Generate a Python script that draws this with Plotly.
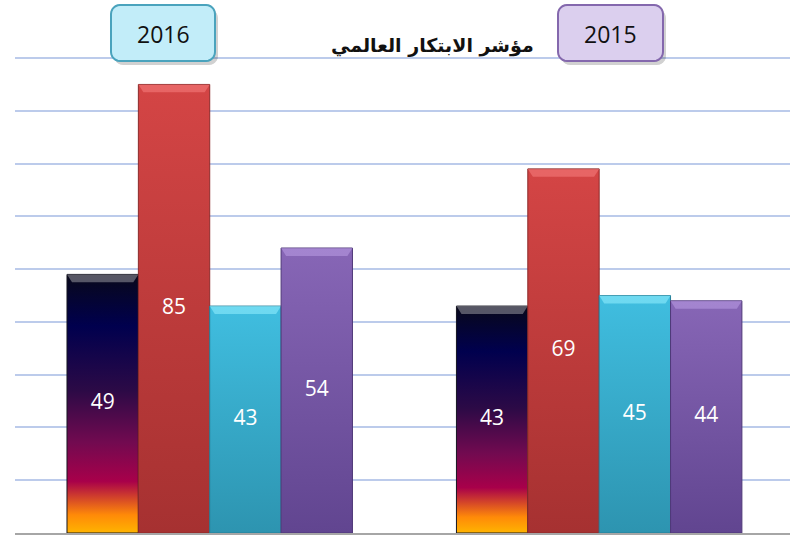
import math
import plotly.graph_objects as go

# ---- data ----
years = ["2016", "2015"]
values_black = [49, 43]
values_red = [85, 69]
values_cyan = [43, 45]
values_purple = [54, 44]
y_ticks = [0, 10, 20, 30, 40, 50, 60, 70, 80, 90]
title_text = "مؤشر الابتكار العالمي"

series = [
    (values_black, [[0, "#ffb400"], [0.07, "#ff8a08"], [0.2, "#a8004a"], [0.35, "#720a50"],
                    [0.55, "#2c0a46"], [0.8, "#00004e"], [1, "#08081a"]], "#151520", "rgba(140,140,150,0.6)"),
    (values_red, [[0, "#a63131"], [1, "#d44545"]], "#8c2a2a", "rgba(255,140,140,0.45)"),
    (values_cyan, [[0, "#2d94b0"], [1, "#40bee0"]], "#267f98", "rgba(150,240,255,0.55)"),
    (values_purple, [[0, "#614590"], [1, "#8766b6"]], "#4f3878", "rgba(200,170,240,0.45)"),
]

group_width = 0.733
bar_w = group_width / len(series)
bevel_h = 1.5
bevel_dx = 0.013

fig = go.Figure()
label_x, label_y, label_t = [], [], []
for i, (vals, cscale, edge, bevel_col) in enumerate(series):
    for g, v in enumerate(vals):
        left = g - group_width / 2 + i * bar_w
        right = left + bar_w
        fig.add_trace(go.Scatter(
            x=[left, left, right, right, left], y=[0, v, v, 0, 0],
            mode="lines", fill="toself",
            line=dict(color=edge, width=1),
            fillgradient=dict(type="vertical", colorscale=cscale, start=0, stop=v),
            hoverinfo="skip", showlegend=False))
        fig.add_trace(go.Scatter(
            x=[left, right, right - bevel_dx, left + bevel_dx, left],
            y=[v, v, v - bevel_h, v - bevel_h, v],
            mode="lines", fill="toself", fillcolor=bevel_col,
            line=dict(width=0), hoverinfo="skip", showlegend=False))
        label_x.append((left + right) / 2)
        label_y.append(v / 2)
        label_t.append(str(v))

fig.add_trace(go.Scatter(
    x=label_x, y=label_y, text=label_t, mode="text",
    textfont=dict(color="white", size=21, family="Open Sans, Lato, sans-serif"),
    hoverinfo="skip", showlegend=False))

# ---- year boxes (rounded) ----
W, H = 790, 535
ml, mr, mt, mb = 15, 0, 57, 2
pw, ph = W - ml - mr, H - mt - mb

def px2paper(x, y):
    return (x - ml) / pw, (H - mb - y) / ph

def rounded(x0, y0, x1, y1, r):
    pts = []
    corners = [(x1 - r, y0 + r, -90, 0), (x1 - r, y1 - r, 0, 90),
               (x0 + r, y1 - r, 90, 180), (x0 + r, y0 + r, 180, 270)]
    for cx, cy, a0, a1 in corners:
        for k in range(7):
            a = math.radians(a0 + (a1 - a0) * k / 6)
            pts.append(px2paper(cx + r * math.cos(a), cy + r * math.sin(a)))
    return "M " + " L ".join(f"{px:.5f},{py:.5f}" for px, py in pts) + " Z"

boxes = [
    (years[0], 111, 5, 215, 61, "#c2edf9", "#4aa3bd"),
    (years[1], 558, 5, 663, 61, "#dbcfee", "#8468ad"),
]
shapes = []
annotations = []
for label, x0, y0, x1, y1, fill, border in boxes:
    shapes.append(dict(type="path", xref="paper", yref="paper",
                       path=rounded(x0 + 3, y0 + 4, x1 + 3, y1 + 4, 9),
                       fillcolor="rgba(0,0,0,0.18)", line=dict(width=0), layer="above"))
    shapes.append(dict(type="path", xref="paper", yref="paper",
                       path=rounded(x0, y0, x1, y1, 9),
                       fillcolor=fill, line=dict(color=border, width=2), layer="above"))
    cx, cy = px2paper((x0 + x1) / 2, (y0 + y1) / 2 + 1)
    annotations.append(dict(text=label, x=cx, y=cy, xref="paper", yref="paper",
                            showarrow=False, xanchor="center", yanchor="middle",
                            font=dict(size=23, color="#111111", family="Open Sans, Lato, sans-serif")))

tx, ty = px2paper(432, 45)
annotations.append(dict(text="<b>" + title_text + "</b>", x=tx, y=ty, xref="paper", yref="paper",
                        showarrow=False, xanchor="center", yanchor="middle",
                        font=dict(size=19, color="#111111", family="DejaVu Sans, sans-serif")))

fig.update_layout(
    width=W, height=H,
    margin=dict(l=ml, r=mr, t=mt, b=mb),
    paper_bgcolor="white", plot_bgcolor="white",
    xaxis=dict(range=[-0.5, 1.49], showgrid=False, zeroline=False, showticklabels=False,
               ticks="", showline=True, linecolor="#a6a6a6", linewidth=2, fixedrange=True),
    yaxis=dict(range=[0, 90.2], tickvals=y_ticks, showgrid=True, gridcolor="#bccbeb",
               gridwidth=2, zeroline=False, showticklabels=False, ticks="", fixedrange=True),
    shapes=shapes, annotations=annotations,
    showlegend=False,
)

fig.write_html("out.html", config={"displayModeBar": False},
               post_script="document.body.style.margin='0px';document.body.style.padding='0px';")
